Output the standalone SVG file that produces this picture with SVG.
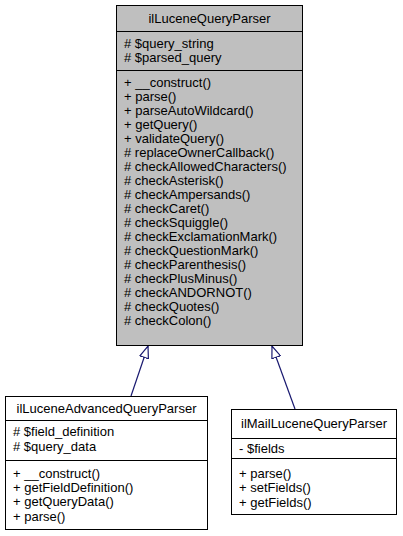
<svg xmlns="http://www.w3.org/2000/svg" width="403" height="536" viewBox="0 0 403 536">
<defs>
<style>
text{font-family:"Liberation Sans",Arial,sans-serif;font-size:13px;fill:#000}
.t{text-anchor:middle}
.box{stroke:#000;stroke-width:1}
.sep{stroke:#000;stroke-width:1}
.edge{fill:none;stroke:#191970;stroke-width:1.2}
</style>
<marker id="inh" viewBox="0 -5 13 10" markerWidth="13" markerHeight="10" refX="12.5" refY="0" orient="auto" markerUnits="userSpaceOnUse">
<path d="M0.5,-4.5 L12.5,0 L0.5,4.5 Z" fill="#fff" stroke="#191970" stroke-width="1.2"/>
</marker>
</defs>
<rect width="403" height="536" fill="#fff"/>
<g id="edges">
<path class="edge" d="M131,396 L148,346" marker-end="url(#inh)"/>
<path class="edge" d="M295,409 L272,346" marker-end="url(#inh)"/>
</g>
<g id="ilLuceneQueryParser">
<rect class="box" x="116.5" y="5.5" width="186" height="340" fill="#bfbfbf"/>
<line class="sep" x1="116.5" y1="31.5" x2="302.5" y2="31.5"/>
<line class="sep" x1="116.5" y1="70.5" x2="302.5" y2="70.5"/>
<text class="t" x="209.5" y="23">ilLuceneQueryParser</text>
<text x="124" y="47.5"># $query_string</text>
<text x="124" y="61.5"># $parsed_query</text>
<text x="124" y="87">+ __construct()</text>
<text x="124" y="101">+ parse()</text>
<text x="124" y="115">+ parseAutoWildcard()</text>
<text x="124" y="129">+ getQuery()</text>
<text x="124" y="143">+ validateQuery()</text>
<text x="124" y="157"># replaceOwnerCallback()</text>
<text x="124" y="171"># checkAllowedCharacters()</text>
<text x="124" y="185"># checkAsterisk()</text>
<text x="124" y="199"># checkAmpersands()</text>
<text x="124" y="213"># checkCaret()</text>
<text x="124" y="227"># checkSquiggle()</text>
<text x="124" y="241"># checkExclamationMark()</text>
<text x="124" y="255"># checkQuestionMark()</text>
<text x="124" y="269"># checkParenthesis()</text>
<text x="124" y="283"># checkPlusMinus()</text>
<text x="124" y="297"># checkANDORNOT()</text>
<text x="124" y="311"># checkQuotes()</text>
<text x="124" y="325"># checkColon()</text>
</g>
<g id="ilLuceneAdvancedQueryParser">
<rect class="box" x="5.5" y="396.5" width="202" height="133" fill="#fff"/>
<line class="sep" x1="5.5" y1="420.5" x2="207.5" y2="420.5"/>
<line class="sep" x1="5.5" y1="460.5" x2="207.5" y2="460.5"/>
<text class="t" x="106.5" y="413">ilLuceneAdvancedQueryParser</text>
<text x="13" y="436"># $field_definition</text>
<text x="13" y="450.5"># $query_data</text>
<text x="13" y="477.5">+ __construct()</text>
<text x="13" y="491.5">+ getFieldDefinition()</text>
<text x="13" y="506">+ getQueryData()</text>
<text x="13" y="520.5">+ parse()</text>
</g>
<g id="ilMailLuceneQueryParser">
<rect class="box" x="231.5" y="409.5" width="165" height="105" fill="#fff"/>
<line class="sep" x1="231.5" y1="438.5" x2="396.5" y2="438.5"/>
<line class="sep" x1="231.5" y1="458.5" x2="396.5" y2="458.5"/>
<text class="t" x="314" y="428">ilMailLuceneQueryParser</text>
<text x="239" y="452.5">- $fields</text>
<text x="239" y="478">+ parse()</text>
<text x="239" y="492">+ setFields()</text>
<text x="239" y="506.5">+ getFields()</text>
</g>
</svg>
